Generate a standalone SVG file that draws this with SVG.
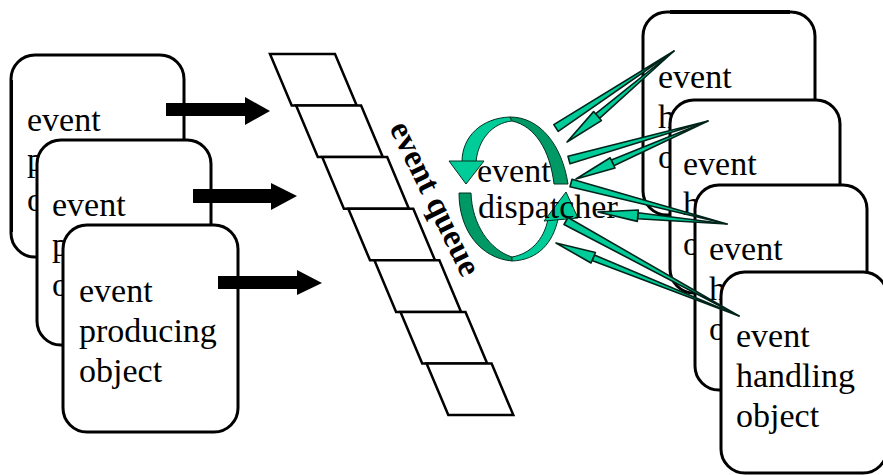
<svg xmlns="http://www.w3.org/2000/svg" width="883" height="475" viewBox="0 0 883 475">
  <defs>
    <style>
      .box { fill: #ffffff; stroke: #000000; stroke-width: 3; }
      .label { font-family: "Liberation Serif", "Times New Roman", serif; font-size: 34px; fill: #000000; }
      .cell { fill: #ffffff; stroke: #000000; stroke-width: 2.5; stroke-linejoin: miter; }
      .qlabel { font-family: "Liberation Serif", "Times New Roman", serif; font-size: 33px; font-weight: bold; fill: #000000; }
      .push { fill: #000000; }
      .light { fill: #00cc99; stroke: #003322; stroke-width: 1; stroke-linejoin: round; }
      .dark { fill: #009966; stroke: #003322; stroke-width: 1; stroke-linejoin: round; }
      .send { fill: #00cc99; stroke: #00241a; stroke-width: 1.6; stroke-linejoin: round; }
    </style>
  </defs>
  <rect width="883" height="475" fill="#ffffff"/>

  <!-- event producing objects (back to front); the back cards only show the first letters -->
  <g id="producer-1">
    <rect class="box" x="11" y="55" width="173" height="202" rx="24"/>
    <line x1="12" y1="80" x2="12" y2="232" stroke="#000" stroke-width="2"/>
    <text class="label" x="27" y="131">event</text>
    <text class="label" x="27" y="171">p</text>
    <text class="label" x="27" y="211">o</text>
  </g>
  <g id="producer-2">
    <rect class="box" x="37" y="140" width="174" height="205" rx="24"/>
    <text class="label" x="52" y="216">event</text>
    <text class="label" x="52" y="256">p</text>
    <text class="label" x="52" y="296">o</text>
  </g>
  <g id="producer-3">
    <rect class="box" x="63" y="225" width="175" height="207" rx="24"/>
    <text class="label" x="79" y="302">event</text>
    <text class="label" x="79" y="342">producing</text>
    <text class="label" x="79" y="382">object</text>
  </g>

  <!-- event queue: a slanted stack of cells -->
  <g id="event-queue">
    <polygon class="cell" points="270,54 335,54 356.7,105.6 291.7,105.6"/>
    <polygon class="cell" points="296.1,105.6 361.1,105.6 382.8,157.1 317.8,157.1"/>
    <polygon class="cell" points="322.2,157.1 387.2,157.1 408.9,208.7 343.9,208.7"/>
    <polygon class="cell" points="348.3,208.7 413.3,208.7 435,260.3 370,260.3"/>
    <polygon class="cell" points="374.4,260.3 439.4,260.3 461.1,311.9 396.1,311.9"/>
    <polygon class="cell" points="400.5,311.9 465.5,311.9 487.2,363.4 422.2,363.4"/>
    <polygon class="cell" points="426.6,363.4 491.6,363.4 513.3,415 448.3,415"/>
    <text class="qlabel" text-anchor="middle" transform="translate(432,200) rotate(64)" x="0" y="7">event queue</text>
  </g>

  <!-- event dispatcher: two curved arrows circling the label -->
  <g id="event-dispatcher">
    <path class="light" d="M462,162 C462,136 482,118 510,117 L512,121 C492,123 478,140 476,162 Z"/>
    <path class="light" d="M449,161 L484,161 L466,184 Z"/>
    <path class="dark" d="M510,117 C540,117 562,145 568,184 L554,184 C550,150 535,126 512,121 Z"/>
    <path class="dark" d="M459,193 L471,193 C472,225 490,250 512,257 L512,261 C480,258 459,230 459,193 Z"/>
    <path class="light" d="M512,261 C538,260 553,243 558,219 L548,219 C544,240 530,254 512,257 Z"/>
    <path class="light" d="M544,221 L578,218 L566,192 Z"/>
    <text class="label" x="477" y="182">event</text>
    <text class="label" x="478" y="218">dispatcher</text>
  </g>

  <!-- event handling objects (back to front); the back cards only show the first letters -->
  <g id="handler-1">
    <rect class="box" x="643" y="12" width="172" height="203" rx="24"/>
    <line x1="670" y1="12" x2="790" y2="12" stroke="#000" stroke-width="4"/>
    <text class="label" x="658" y="88">event</text>
    <text class="label" x="658" y="128">h</text>
    <text class="label" x="658" y="168">o</text>
  </g>
  <g id="handler-2">
    <rect class="box" x="670" y="100" width="170" height="193" rx="24"/>
    <text class="label" x="683" y="175">event</text>
    <text class="label" x="683" y="215">h</text>
    <text class="label" x="683" y="255">o</text>
  </g>
  <g id="handler-3">
    <rect class="box" x="695" y="185" width="172" height="205" rx="24"/>
    <text class="label" x="709" y="260">event</text>
    <text class="label" x="709" y="300">h</text>
    <text class="label" x="709" y="340">o</text>
  </g>
  <g id="handler-4">
    <rect class="box" x="721" y="272" width="166" height="201" rx="24"/>
    <text class="label" x="736" y="347">event</text>
    <text class="label" x="736" y="387">handling</text>
    <text class="label" x="736" y="427">object</text>
  </g>

  <!-- connectors -->
  <g id="connectors">
    <!-- producers push events into the queue -->
    <polygon class="push" points="166,103 245,103 245,97 270,111 245,125 245,116 166,116"/>
    <polygon class="push" points="193,189 271,189 271,183 297,196 271,210 271,203 193,203"/>
    <polygon class="push" points="218,276 297,276 297,270 322,283 297,295 297,289 218,289"/>

    <!-- dispatcher sends each event out to a handler and gets it back -->
    <path class="send" d="M558.2,131.4 L674,51 L553.8,124.6 Z"/>
    <path class="send" d="M674,51 L599.5,118.3 L595.5,113.9 Z"/>
    <path class="send" d="M567,142 L601.4,120.6 L593.6,111.6 Z"/>

    <path class="send" d="M570,163.8 L708,121 L568,156.2 Z"/>
    <path class="send" d="M708,121 L613.8,165.7 L611.4,160.1 Z"/>
    <path class="send" d="M576,179 L615,168 L610.2,157.8 Z"/>

    <path class="send" d="M570,186.8 L727,224 L572,179.2 Z"/>
    <path class="send" d="M727,224 L638,212.7 L637.6,218.7 Z"/>
    <path class="send" d="M598,212 L638.3,210 L637.3,221.4 Z"/>

    <path class="send" d="M564,224.5 L739,316 L568,217.5 Z"/>
    <path class="send" d="M739,316 L594.4,255 L592,260.6 Z"/>
    <path class="send" d="M556,243 L595.4,252.5 L591,263 Z"/>
  </g>
</svg>
